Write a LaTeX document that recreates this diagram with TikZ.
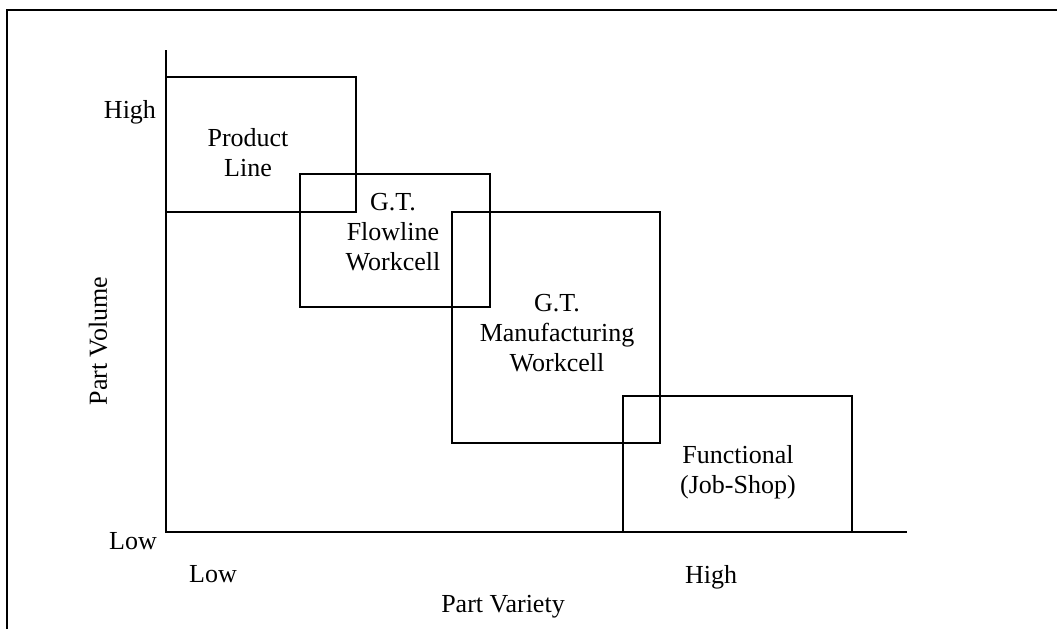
\documentclass[tikz,border=0pt]{standalone}
\usepackage{fontspec}
\setmainfont{Liberation Serif}
\begin{document}
\begin{tikzpicture}[x=0.5pt,y=-0.5pt,
  line/.style={line width=1pt,black},
  lbl/.style={font=\fontsize{13}{15}\selectfont,inner sep=0pt,align=center}]
\useasboundingbox (0,0) rectangle (1057,629);
% outer frame (top and left edges)
\coordinate (fbl) at (7,629);
\coordinate (ftl) at (7,10);
\coordinate (ftr) at (1057,10);
\draw[line] (fbl) -- (ftl) -- (ftr);
% axes
\coordinate (o) at (166,532);
\coordinate (ytop) at (166,50);
\coordinate (xend) at (907,532);
\draw[line] (ytop) -- (o) -- (xend);
% regions
\draw[line] (166,77) rectangle (356,212);
\draw[line] (300,174) rectangle (490,307);
\draw[line] (452,212) rectangle (660,443);
\draw[line] (623,396) rectangle (852,532);
% region labels
\node[lbl] (pl) at (248,153) {Product\\Line};
\node[lbl] (fw) at (393,232) {G.T.\\Flowline\\Workcell};
\node[lbl] (mw) at (557,333) {G.T.\\Manufacturing\\Workcell};
\node[lbl] (fn) at (738,472) {Functional\\(Job-Shop)};
% axis labels
\node[lbl] (yhi) at (130,112) {High};
\node[lbl] (ylo) at (133,541) {Low};
\node[lbl] (xlo) at (213,574) {Low};
\node[lbl] (xhi) at (711,577) {High};
\node[lbl] (xt) at (503,607) {Part Variety};
\node[lbl,rotate=90] (yt) at (98,341) {Part Volume};
\end{tikzpicture}
\end{document}
